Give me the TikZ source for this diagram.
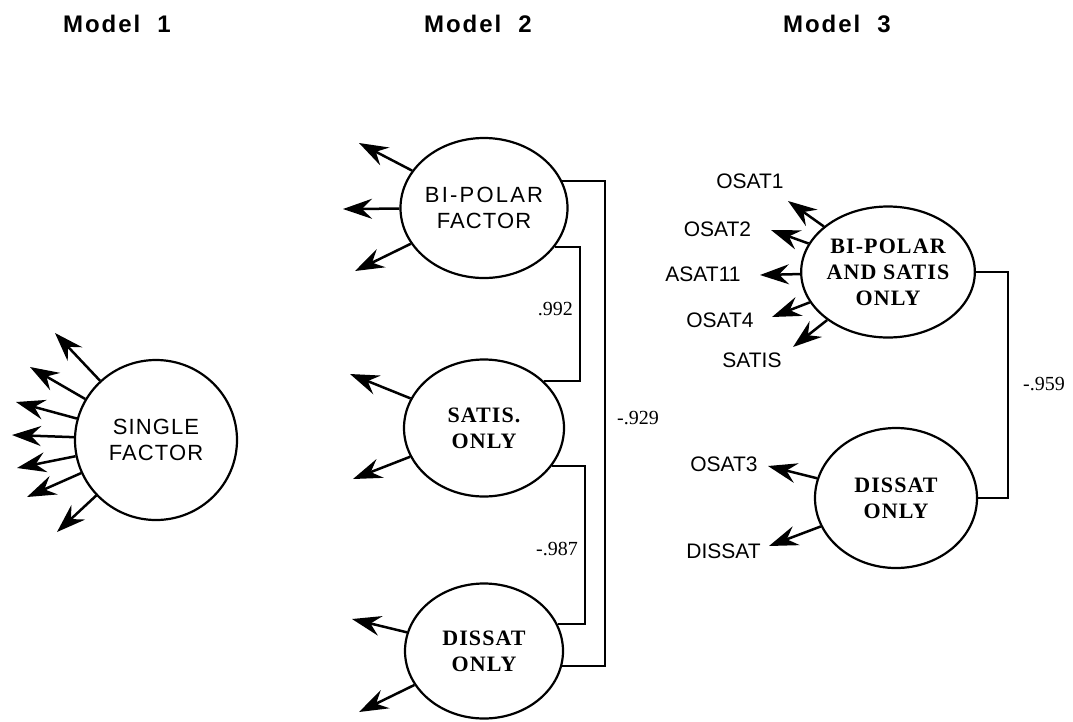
\documentclass[tikz,border=0pt]{standalone}
\usepackage{fontspec}
\setmainfont{Liberation Serif}
\setsansfont{Liberation Sans}
\newfontfamily\ellsans[LetterSpace=5]{Liberation Sans}
\newfontfamily\ellserif[LetterSpace=5]{Liberation Serif}
\newfontfamily\ttlfont[LetterSpace=8]{Liberation Sans}
\usetikzlibrary{arrows.meta,shapes.geometric}
\tikzset{
  lat/.style={ellipse, draw, line width=2.2pt, inner sep=0pt, align=center},
  sanslab/.style={font=\fontsize{22}{26}\selectfont\ellsans},
  seriflab/.style={font=\fontsize{22}{26}\selectfont\ellserif\bfseries},
  ind/.style={font=\fontsize{21}{25}\selectfont\sffamily, inner sep=0pt},
  coef/.style={font=\fontsize{20}{24}\selectfont\rmfamily, inner sep=0pt},
  ttl/.style={font=\fontsize{24}{28}\selectfont\ttlfont\bfseries, inner sep=0pt},
  load/.style={line width=2.5pt, -{Stealth[length=29pt,width=20pt,inset=10pt]}},
  corr/.style={line width=1.6pt},
}
\begin{document}
\begin{tikzpicture}[x=1pt,y=-1pt]
\useasboundingbox (0,0) rectangle (1073,721);

% titles
\node[ttl] (m1) at (117,24) {Model~~1};
\node[ttl] (m2) at (478,24) {Model~~2};
\node[ttl] (m3) at (837,24) {Model~~3};

% ---------- Model 1
\node[lat, sanslab, minimum width=162pt, minimum height=160pt] (sf) at (156,440) {SINGLE\\FACTOR};
\coordinate (t11) at (55,333);
\coordinate (t12) at (30,367);
\coordinate (t13) at (16,402);
\coordinate (t14) at (12,435);
\coordinate (t15) at (17,468);
\coordinate (t16) at (27,497);
\coordinate (t17) at (57,532);
\foreach \t in {t11,t12,t13,t14,t15,t16,t17} \draw[load] (sf) -- (\t);

% ---------- Model 2
\node[lat, sanslab, minimum width=158pt, minimum height=140pt] (bp) at (484,208) {{\addfontfeature{LetterSpace=10}BI-POLAR}\\FACTOR};
\node[lat, seriflab, minimum width=160pt, minimum height=137pt] (sat) at (484,428) {SATIS.\\ONLY};
\node[lat, seriflab, minimum width=158pt, minimum height=135pt] (dis) at (484,651) {DISSAT\\ONLY};

\coordinate (b1) at (359,143);
\coordinate (b2) at (343,209);
\coordinate (b3) at (355,271);
\coordinate (s1) at (350,374);
\coordinate (s2) at (353,479);
\coordinate (d1) at (352,619);
\coordinate (d2) at (359,712);
\foreach \t in {b1,b2,b3} \draw[load] (bp) -- (\t);
\foreach \t in {s1,s2} \draw[load] (sat) -- (\t);
\foreach \t in {d1,d2} \draw[load] (dis) -- (\t);

\coordinate (xo) at (605,0);
\coordinate (xi1) at (580,0);
\coordinate (xi2) at (585,0);
\draw[corr] (bp.19) -- (bp.19 -| xo) -- (dis.-11 -| xo) -- (dis.-11);
\draw[corr] (bp.-29) -- (bp.-29 -| xi1) -- (sat.38 -| xi1) -- (sat.38);
\draw[corr] (sat.-29) -- (sat.-29 -| xi2) -- (dis.20 -| xi2) -- (dis.20);

\node[coef, anchor=east] (c1) at (573,309) {.992};
\node[coef, anchor=east] (c2) at (578,549) {-.987};
\node[coef, anchor=west] (c3) at (617,418) {-.929};

% ---------- Model 3
\node[lat, seriflab, minimum width=163pt, minimum height=131pt] (ea) at (888,272) {BI-POLAR\\AND SATIS\\ONLY};
\node[lat, seriflab, minimum width=162pt, minimum height=140pt] (eb) at (896,498) {DISSAT\\ONLY};

\node[ind] (osat1) at (750,181.5) {OSAT1};
\node[ind] (osat2) at (717.5,229.5) {OSAT2};
\node[ind] (asat11) at (703,274.5) {ASAT11};
\node[ind] (osat4) at (720,320) {OSAT4};
\node[ind] (satis) at (752,360) {SATIS};
\node[ind] (osat3) at (724,464.5) {OSAT3};
\node[ind] (dissat) at (723.5,551.5) {DISSAT};

\coordinate (a1) at (788,201);
\coordinate (a2) at (771,230);
\coordinate (a3) at (760,275);
\coordinate (a4) at (772,317);
\coordinate (a5) at (793,347);
\coordinate (a6) at (768,466);
\coordinate (a7) at (769,546);
\foreach \t in {a1,a2,a3,a4,a5} \draw[load] (ea) -- (\t);
\foreach \t in {a6,a7} \draw[load] (eb) -- (\t);

\coordinate (x3) at (1008,0);
\draw[corr] (ea.east) -- (ea.east -| x3) -- (eb.east -| x3) -- (eb.east);
\node[coef, anchor=west] (c4) at (1023,384) {-.959};
\end{tikzpicture}
\end{document}
